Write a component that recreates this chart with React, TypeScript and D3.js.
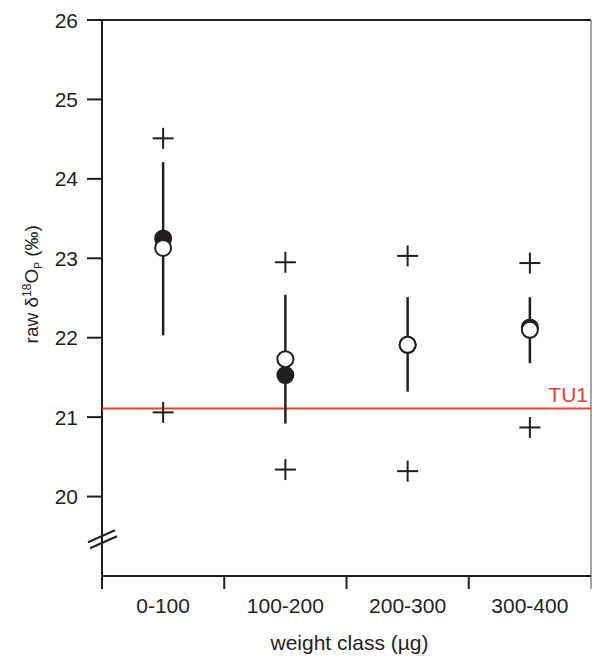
import React from 'react';
import * as d3 from 'd3';

const categories = ['0-100', '100-200', '200-300', '300-400'];
const meanOpen = [23.13, 21.73, 21.91, 22.1];
const meanFilled = [23.25, 21.53, 21.91, 22.13];
const errHigh = [24.21, 22.54, 22.51, 22.51];
const errLow = [22.03, 20.92, 21.32, 21.68];
const maxPlus = [24.51, 22.95, 23.03, 22.94];
const minPlus = [21.06, 20.34, 20.32, 20.87];
const yTicks = [20, 21, 22, 23, 24, 25, 26];
const tu1Value = 21.11;
const tu1Label = 'TU1';

const W = 592;
const H = 658;
const INK = '#231f20';
const RED = '#e8402b';
const FONT = '"Liberation Sans", Arial, Helvetica, sans-serif';

export default function App() {
  const x = d3.scaleBand<string>().domain(categories).range([102, 591]).padding(0);
  const y = d3.scaleLinear().domain([19, 26]).range([576, 20]);
  const cx = (c: string) => (x(c) as number) + x.bandwidth() / 2;
  const axisY = y(19);
  const left = 102;
  const right = 591;
  const plusHalf = 10.5;
  const r = 8;

  const bandEdges = categories.map((c) => x(c) as number);

  return (
    <svg
      width={W}
      height={H}
      style={{ position: 'absolute', left: 0, top: 0, background: '#fff' }}
      fontFamily={FONT}
    >
      <line x1={left} x2={right} y1={y(26)} y2={y(26)} stroke={INK} strokeWidth={2} />
      <line x1={right} x2={right} y1={y(26)} y2={axisY + 13} stroke="#888" strokeWidth={1.5} />
      <line x1={left} x2={left} y1={y(26)} y2={axisY + 13} stroke={INK} strokeWidth={2} />
      {yTicks.map((t) => (
        <g key={t}>
          <line x1={left - 15} x2={left} y1={y(t)} y2={y(t)} stroke={INK} strokeWidth={2} />
          <text x={78} y={y(t)} dy="0.36em" textAnchor="end" fontSize={21} fill={INK}>
            {t}
          </text>
        </g>
      ))}
      <line x1={88} x2={115} y1={y(19.5) + 6} y2={y(19.5) - 6} stroke={INK} strokeWidth={2} />
      <line x1={90} x2={117} y1={y(19.5) + 12} y2={y(19.5)} stroke={INK} strokeWidth={2} />
      <line x1={left} x2={right} y1={axisY} y2={axisY} stroke={INK} strokeWidth={2} />
      {bandEdges.slice(1).map((bx, i) => (
        <line key={i} x1={bx} x2={bx} y1={axisY} y2={axisY + 13} stroke={INK} strokeWidth={2} />
      ))}
      {categories.map((c) => (
        <text key={c} x={cx(c)} y={613} textAnchor="middle" fontSize={21} fill={INK}>
          {c}
        </text>
      ))}
      <text x={(left + right) / 2 + 3} y={650} textAnchor="middle" fontSize={21} fill={INK}>
        weight class (µg)
      </text>
      <text
        transform={`translate(38, ${(y(20) + y(26)) / 2 + 26}) rotate(-90)`}
        textAnchor="middle"
        fontSize={19}
        fill={INK}
      >
        raw δ<tspan dy={-7} fontSize={12}>18</tspan>
        <tspan dy={7}>O</tspan>
        <tspan dy={4} fontSize={10}>P</tspan>
        <tspan dy={-4}> (‰)</tspan>
      </text>
      <line x1={left} x2={right} y1={y(tu1Value)} y2={y(tu1Value)} stroke={RED} strokeWidth={2} />
      <text x={588} y={y(tu1Value) - 6} textAnchor="end" fontSize={21} fill={RED}>
        {tu1Label}
      </text>
      {categories.map((c, i) => {
        const px = cx(c);
        return (
          <g key={c}>
            {[maxPlus[i], minPlus[i]].map((v, k) => (
              <g key={k}>
                <line x1={px - plusHalf} x2={px + plusHalf} y1={y(v)} y2={y(v)} stroke={INK} strokeWidth={2} />
                <line x1={px} x2={px} y1={y(v) - plusHalf} y2={y(v) + plusHalf} stroke={INK} strokeWidth={2} />
              </g>
            ))}
            <line x1={px} x2={px} y1={y(errHigh[i])} y2={y(errLow[i])} stroke={INK} strokeWidth={2.5} />
            <circle cx={px} cy={y(meanFilled[i])} r={r} fill={INK} stroke={INK} strokeWidth={2} />
            <circle cx={px} cy={y(meanOpen[i])} r={r} fill="#fff" stroke={INK} strokeWidth={2} />
          </g>
        );
      })}
    </svg>
  );
}
